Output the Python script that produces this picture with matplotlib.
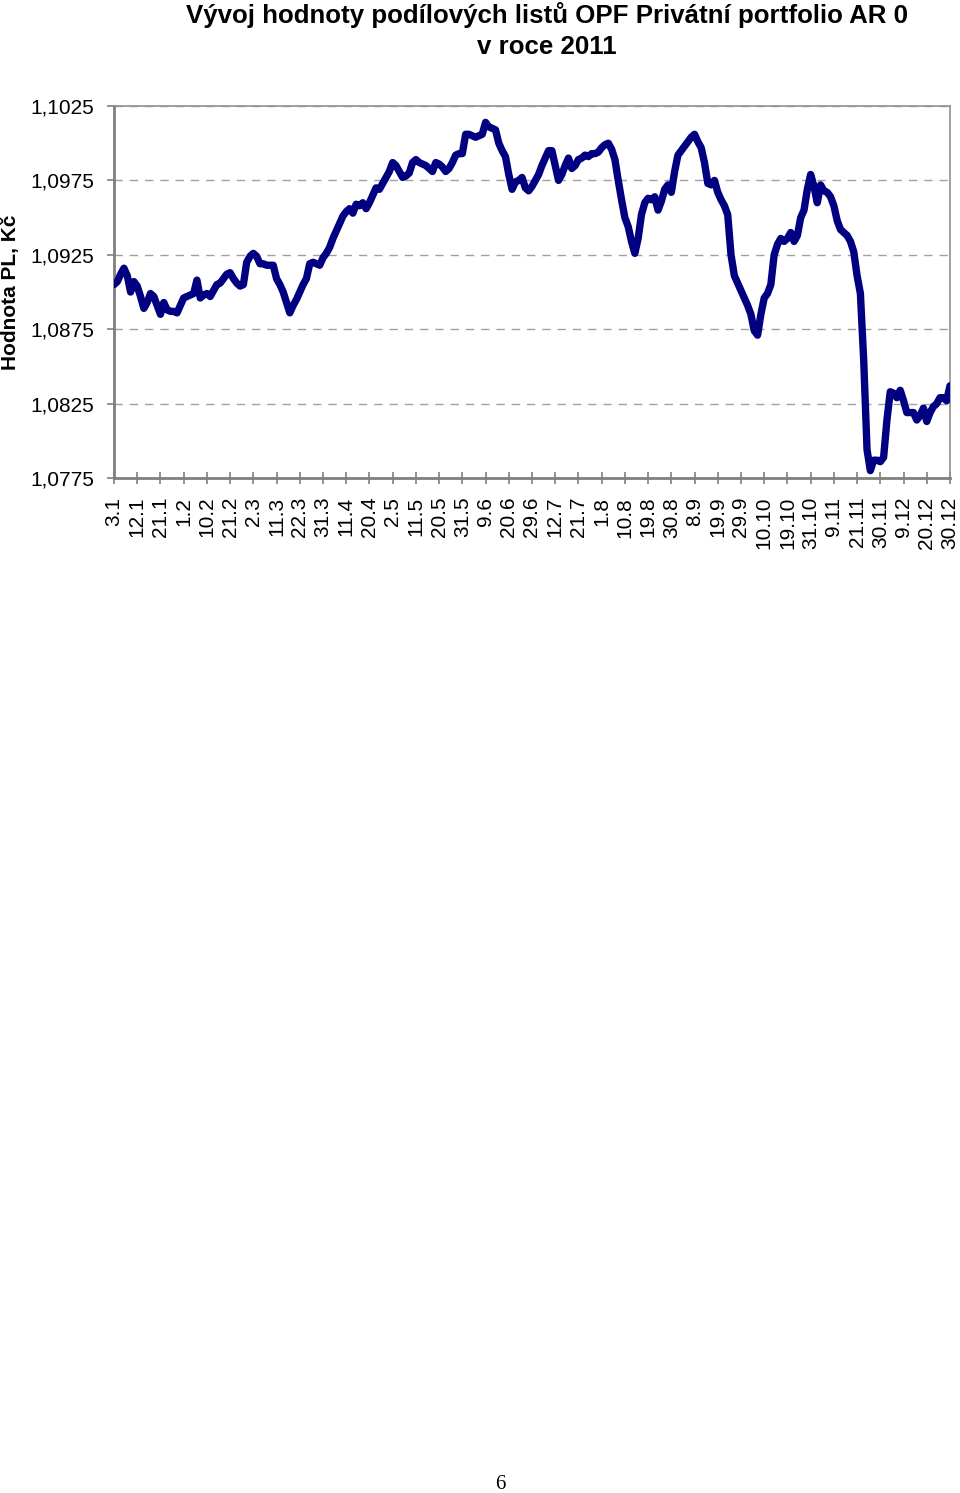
import matplotlib
matplotlib.use("Agg")
import matplotlib.pyplot as plt
from matplotlib.ticker import FixedLocator, FuncFormatter

# -----------------------
# Data (one value per trading day of 2011)
# -----------------------
nav = [
    1.0905, 1.0907, 1.0912, 1.0916, 1.0911, 1.0900, 1.0907, 1.0904, 1.0897, 1.0889,
    1.0893, 1.0899, 1.0897, 1.0891, 1.0885, 1.0893, 1.0888, 1.0887, 1.0887, 1.0886,
    1.0891, 1.0896, 1.0897, 1.0898, 1.0899, 1.0908, 1.0896, 1.0898, 1.0899, 1.0897,
    1.0901, 1.0905, 1.0906, 1.0909, 1.0912, 1.0913, 1.0909, 1.0906, 1.0904, 1.0905,
    1.0920, 1.0924, 1.0926, 1.0924, 1.0919, 1.0919, 1.0918, 1.0918, 1.0918, 1.0909,
    1.0905, 1.0900, 1.0893, 1.0886, 1.0891, 1.0895, 1.0900, 1.0905, 1.0909, 1.0919,
    1.0920, 1.0919, 1.0918, 1.0923, 1.0926, 1.0930, 1.0936, 1.0941, 1.0946, 1.0951,
    1.0954, 1.0956, 1.0953, 1.0959, 1.0958, 1.0960, 1.0956, 1.0960, 1.0965, 1.0970,
    1.0969, 1.0973, 1.0977, 1.0981, 1.0987, 1.0985, 1.0981, 1.0977, 1.0978, 1.0980,
    1.0987, 1.0989, 1.0987, 1.0986, 1.0985, 1.0983, 1.0981, 1.0987, 1.0986, 1.0984,
    1.0981, 1.0983, 1.0987, 1.0992, 1.0993, 1.0993, 1.1006, 1.1006, 1.1005, 1.1004,
    1.1005, 1.1006, 1.1014, 1.1011, 1.1010, 1.1009, 1.1000, 1.0995, 1.0991, 1.0979,
    1.0969, 1.0974, 1.0975, 1.0977, 1.0970, 1.0968, 1.0971, 1.0975, 1.0979, 1.0985,
    1.0990, 1.0995, 1.0995, 1.0985, 1.0975, 1.0979, 1.0985, 1.0990, 1.0983, 1.0985,
    1.0989, 1.0990, 1.0992, 1.0991, 1.0993, 1.0993, 1.0994, 1.0997, 1.0999, 1.1000,
    1.0996, 1.0989, 1.0975, 1.0962, 1.0950, 1.0944, 1.0934, 1.0926, 1.0936, 1.0952,
    1.0960, 1.0963, 1.0962, 1.0964, 1.0955, 1.0961, 1.0969, 1.0972, 1.0967, 1.0981,
    1.0992, 1.0995, 1.0998, 1.1001, 1.1004, 1.1006, 1.1001, 1.0997, 1.0987, 1.0973,
    1.0972, 1.0975, 1.0967, 1.0962, 1.0958, 1.0952, 1.0925, 1.0911, 1.0906, 1.0901,
    1.0896, 1.0891, 1.0885, 1.0874, 1.0871, 1.0885, 1.0896, 1.0899, 1.0905, 1.0925,
    1.0932, 1.0936, 1.0934, 1.0936, 1.0940, 1.0934, 1.0938, 1.0950, 1.0955, 1.0969,
    1.0979, 1.0971, 1.0960, 1.0972, 1.0968, 1.0967, 1.0964, 1.0958, 1.0948, 1.0942,
    1.0940, 1.0938, 1.0934, 1.0927, 1.0911, 1.0899, 1.0854, 1.0794, 1.0780, 1.0787,
    1.0787, 1.0786, 1.0789, 1.0814, 1.0833, 1.0832, 1.0829, 1.0834, 1.0827, 1.0819,
    1.0819, 1.0819, 1.0814, 1.0817, 1.0822, 1.0813, 1.0819, 1.0823, 1.0825, 1.0829,
    1.0829, 1.0827, 1.0837,
]

date_labels = [
    "3.1", "12.1", "21.1", "1.2", "10.2", "21.2", "2.3", "11.3", "22.3", "31.3",
    "11.4", "20.4", "2.5", "11.5", "20.5", "31.5", "9.6", "20.6", "29.6", "12.7",
    "21.7", "1.8", "10.8", "19.8", "30.8", "8.9", "19.9", "29.9", "10.10", "19.10",
    "31.10", "9.11", "21.11", "30.11", "9.12", "20.12", "30.12",
]
LABEL_STEP = 7  # a label every 7 trading days

y_ticks = [1.0775, 1.0825, 1.0875, 1.0925, 1.0975, 1.1025]

TITLE = "Vývoj hodnoty podílových listů OPF Privátní portfolio AR 0\nv roce 2011"
Y_LABEL = "Hodnota PL, Kč"
PAGE_NO = "6"

# -----------------------
# Figure
# -----------------------
plt.rcParams["font.family"] = ["Liberation Sans", "DejaVu Sans"]

fig = plt.figure(figsize=(9.6, 14.93), dpi=100)
ax = fig.add_axes([0.11875, 0.6798, 0.8708, 0.2492])

days = list(range(len(nav)))
ax.plot(days, nav, color="#000080", lw=5.3, solid_joinstyle="round",
        solid_capstyle="round", zorder=3)

ax.set_xlim(0, len(nav) - 1)
ax.set_ylim(y_ticks[0], y_ticks[-1])

ax.yaxis.set_major_locator(FixedLocator(y_ticks))
ax.yaxis.set_major_formatter(FuncFormatter(lambda v, p: f"{v:.4f}".replace(".", ",")))
ax.set_xticks([i * LABEL_STEP for i in range(len(date_labels))])
ax.set_xticklabels(date_labels, rotation=90, fontsize=15)

ax.tick_params(axis="y", labelsize=15, length=5, width=1.2, color="#808080",
               direction="out", pad=9)
ax.tick_params(axis="x", length=9, width=1.2, color="#808080",
               direction="inout", pad=9)

ax.grid(axis="y", color="#a0a0a0", linestyle=(0, (6, 5)), linewidth=1.0, zorder=1)

for side in ["left", "bottom"]:
    ax.spines[side].set_color("#808080")
    ax.spines[side].set_linewidth(2.0)
for side in ["top", "right"]:
    ax.spines[side].set_color("#909090")
    ax.spines[side].set_linewidth(1.2)

fig.text(0.570, 0.9985, TITLE, ha="center", va="top", fontsize=18.6,
         fontweight="bold", linespacing=1.36)
fig.text(0.011, 0.8044, Y_LABEL, ha="center", va="center", rotation=90,
         fontsize=15, fontweight="bold")
fig.text(0.521, 0.006, PAGE_NO, ha="center", va="center", fontsize=15,
         family=["Liberation Serif", "DejaVu Serif"])

fig.savefig("out.png", dpi=100)
